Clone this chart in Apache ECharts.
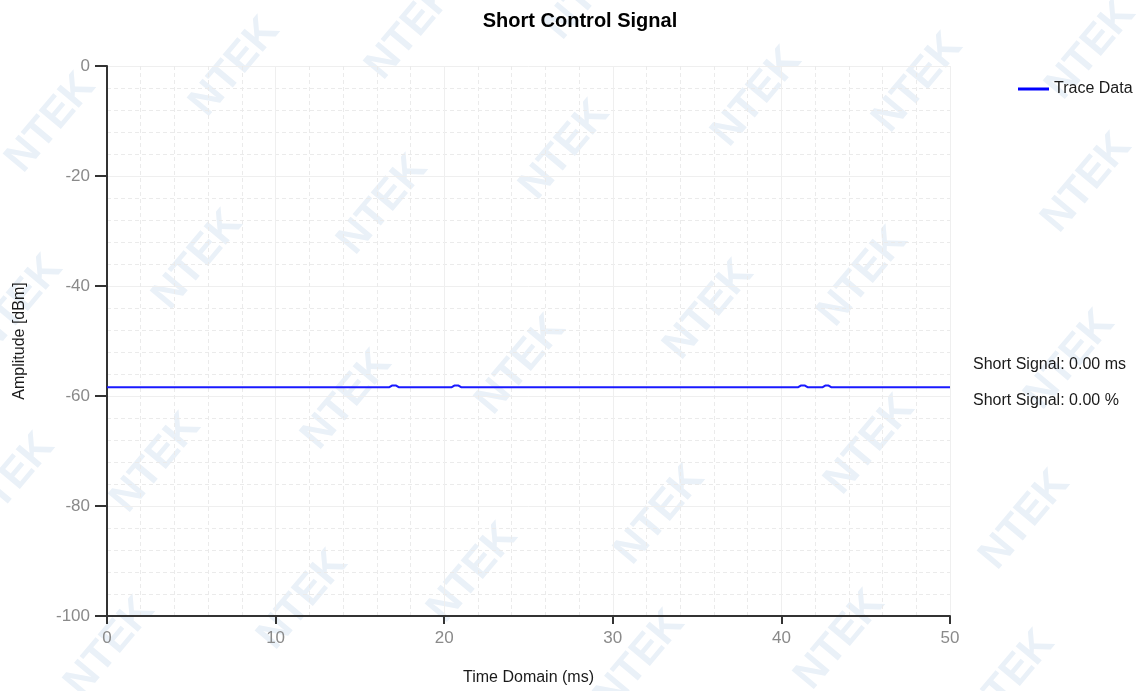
<!DOCTYPE html>
<html>
<head>
<meta charset="utf-8">
<script src="https://cdn.jsdelivr.net/npm/echarts@6/dist/echarts.min.js"></script>
<style>
html,body{margin:0;padding:0;background:#fff;}
#chart{width:1145px;height:691px;}
</style>
</head>
<body>
<div id="chart"></div>
<script>
// ---- data ----
var timeMs = [0, 16.75, 16.9, 17.15, 17.3, 20.45, 20.6, 20.85, 21.0, 41.0, 41.15, 41.4, 41.55, 42.45, 42.6, 42.8, 42.95, 50];
var amplitude = [-58.4, -58.4, -58.1, -58.1, -58.4, -58.4, -58.1, -58.1, -58.4, -58.4, -58.1, -58.1, -58.4, -58.4, -58.1, -58.1, -58.4, -58.4];
var xTicks = [0, 10, 20, 30, 40, 50];
var yTicks = [0, -20, -40, -60, -80, -100];
var titleText = 'Short Control Signal';
var seriesName = 'Trace Data';
var infoLines = ['Short Signal: 0.00 ms', 'Short Signal: 0.00 %'];
var watermarkText = 'NTEK';

var FONT = 'Liberation Sans, Arial, sans-serif';
var pts = timeMs.map(function (t, i) { return [t, amplitude[i]]; });

// watermark placement (decoration)
var wmPos = [
  [51,123],[235,67],[411,30],[590,-10],
  [18,305],[198,260],[383,205],[565,150],[757,97],[918,83],[1091,50],
  [10,483],[156,463],[347,400],[521,365],[709,310],[863,277],[1087,183],
  [110,647],[303,600],[473,573],[660,515],[870,445],[1070,360],
  [640,660],[840,640],[1025,520],[1010,680]
];
var graphics = wmPos.map(function (p) {
  return {
    type: 'text', x: p[0], y: p[1], rotation: 50 * Math.PI / 180, z: -10, silent: true,
    style: { text: watermarkText, font: 'bold 42px ' + FONT, fill: '#eaf1f8', align: 'center', verticalAlign: 'middle' }
  };
});
graphics.push({
  type: 'text', left: 973, top: 357, z: 10,
  style: { text: infoLines[0], font: '16px ' + FONT, fill: '#1a1a1a' }
});
graphics.push({
  type: 'text', left: 973, top: 393, z: 10,
  style: { text: infoLines[1], font: '16px ' + FONT, fill: '#1a1a1a' }
});

var chart = echarts.init(document.getElementById('chart'), null, { renderer: 'canvas' });
chart.setOption({
  backgroundColor: '#ffffff',
  animation: false,
  title: {
    text: titleText, left: 575, top: 6, textAlign: 'center',
    textStyle: { fontFamily: FONT, fontWeight: 'bold', fontSize: 20, color: '#000' }
  },
  legend: {
    data: [seriesName], left: 1013, top: 76, icon: 'rect', itemWidth: 31, itemHeight: 3, itemGap: 8,
    textStyle: { fontFamily: FONT, fontSize: 16, color: '#1a1a1a' }
  },
  grid: { left: 107, right: 195, top: 66, bottom: 72, containLabel: false },
  xAxis: {
    type: 'value', min: 0, max: 50, interval: 10,
    name: 'Time Domain (ms)', nameLocation: 'middle', nameGap: 54,
    nameTextStyle: { fontFamily: FONT, fontSize: 16, color: '#1a1a1a' },
    axisLine: { show: true, onZero: false, lineStyle: { color: '#333', width: 2 } },
    axisTick: { show: true, length: 8, lineStyle: { color: '#333', width: 2 } },
    axisLabel: { fontFamily: FONT, fontSize: 17, color: '#8a8a8a', margin: 14,
      formatter: function (v) { return xTicks.indexOf(v) >= 0 ? String(v) : ''; } },
    splitLine: { show: true, lineStyle: { color: '#efefef', width: 1 } },
    minorTick: { show: false, splitNumber: 5 },
    minorSplitLine: { show: true, lineStyle: { color: '#ebebeb', type: [4, 3], width: 1 } }
  },
  yAxis: {
    type: 'value', min: -100, max: 0, interval: 20,
    name: 'Amplitude [dBm]', nameLocation: 'middle', nameGap: 79, nameRotate: 90,
    nameTextStyle: { fontFamily: FONT, fontSize: 16, color: '#1a1a1a' },
    axisLine: { show: true, onZero: false, lineStyle: { color: '#333', width: 2 } },
    axisTick: { show: true, length: 12, lineStyle: { color: '#333', width: 2 } },
    axisLabel: { fontFamily: FONT, fontSize: 17, color: '#8a8a8a', margin: 17,
      formatter: function (v) { return yTicks.indexOf(v) >= 0 ? String(v) : ''; } },
    splitLine: { show: true, lineStyle: { color: '#efefef', width: 1 } },
    minorTick: { show: false, splitNumber: 5 },
    minorSplitLine: { show: true, lineStyle: { color: '#ebebeb', type: [4, 3], width: 1 } }
  },
  series: [{
    name: seriesName, type: 'line', data: pts, showSymbol: false, symbol: 'none',
    lineStyle: { color: '#1a1aff', width: 2 }, itemStyle: { color: '#0000ff' }, z: 5
  }],
  graphic: graphics
});
</script>
</body>
</html>
